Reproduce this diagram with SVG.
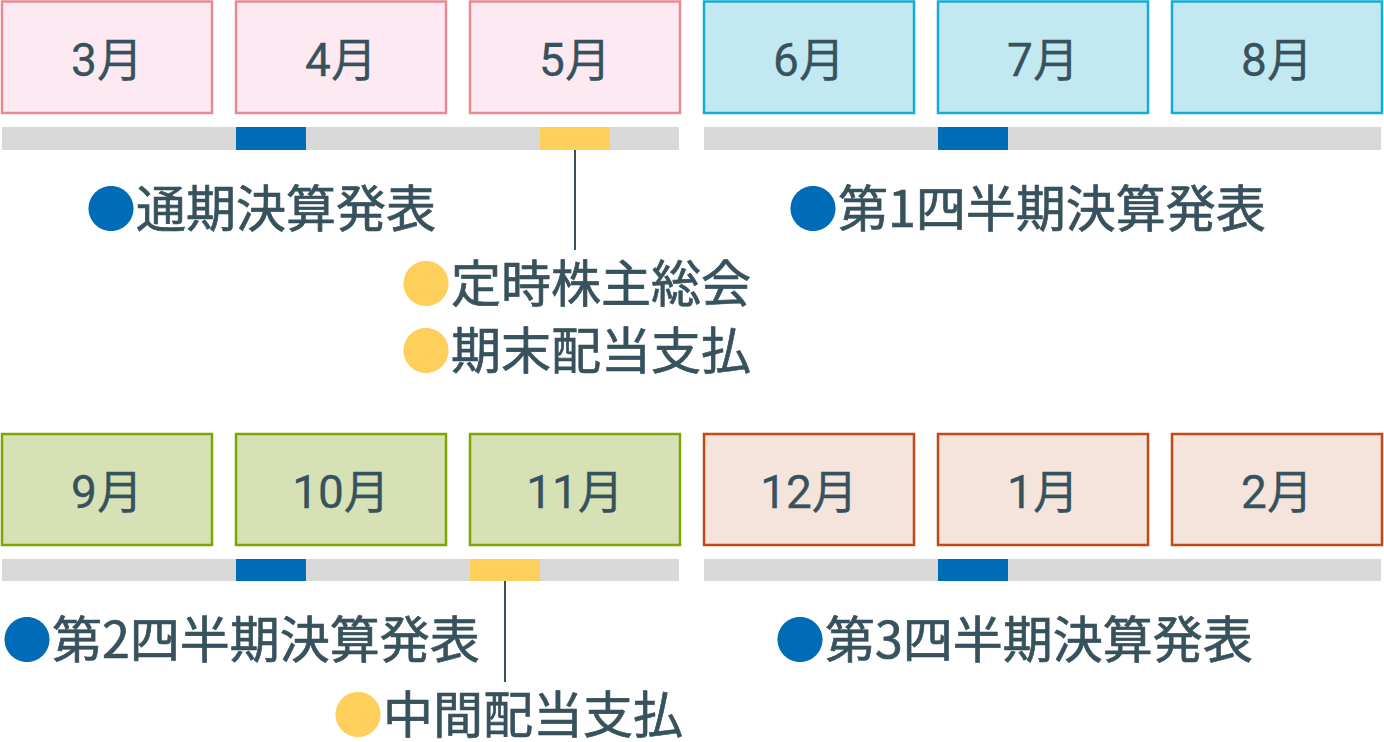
<svg xmlns="http://www.w3.org/2000/svg" width="1384" height="742" viewBox="0 0 1384 742">
<style>
text{font-family:"Noto Sans CJK JP","Noto Sans",sans-serif;fill:#37525c;stroke:#37525c;stroke-width:0.7}
.m{font-size:46px;text-anchor:middle;font-family:Roboto,"Noto Sans CJK JP",sans-serif;stroke-width:0.3}
.l{font-size:50px}
.pk{fill:#fde9f2;stroke:#e68a94;stroke-width:2.5}
.bl{fill:#c2e9f2;stroke:#14acd6;stroke-width:2.5}
.gr{fill:#d6e2b5;stroke:#7ea600;stroke-width:2.5}
.or{fill:#f4e4dc;stroke:#c34a14;stroke-width:2.5}
.bar{fill:#d9d9d9}
.b{fill:#006cb7}
.y{fill:#ffcf5c}
.cb{fill:#006cb7;stroke:none}
.cy{fill:#ffcf5c;stroke:none}
</style>
<g id="bars">
<rect class="bar" x="2" y="127" width="677" height="23"/>
<rect class="bar" x="704" y="127" width="677" height="23"/>
<rect class="b" x="236" y="127" width="70" height="23"/>
<rect class="y" x="540" y="127" width="70" height="23"/>
<rect class="b" x="938" y="127" width="70" height="23"/>
<rect class="bar" x="2" y="559" width="677" height="22"/>
<rect class="bar" x="704" y="559" width="677" height="22"/>
<rect class="b" x="236" y="559" width="70" height="22"/>
<rect class="y" x="470" y="559" width="70" height="22"/>
<rect class="b" x="938" y="559" width="70" height="22"/>
</g>
<g id="connectors" stroke="#37525c" stroke-width="2">
<line x1="575" y1="150" x2="575" y2="250"/>
<line x1="505" y1="581" x2="505" y2="682"/>
</g>
<g id="m3"><rect class="pk" x="2" y="1.5" width="210" height="111.5"/><text class="m" x="107" y="76">3月</text></g>
<g id="m4"><rect class="pk" x="236" y="1.5" width="210" height="111.5"/><text class="m" x="341" y="76">4月</text></g>
<g id="m5"><rect class="pk" x="470" y="1.5" width="210" height="111.5"/><text class="m" x="575" y="76">5月</text></g>
<g id="m6"><rect class="bl" x="704" y="1.5" width="210" height="111.5"/><text class="m" x="809" y="76">6月</text></g>
<g id="m7"><rect class="bl" x="938" y="1.5" width="210" height="111.5"/><text class="m" x="1043" y="76">7月</text></g>
<g id="m8"><rect class="bl" x="1172" y="1.5" width="210" height="111.5"/><text class="m" x="1277" y="76">8月</text></g>
<g id="m9"><rect class="gr" x="2" y="434" width="210" height="111"/><text class="m" x="107" y="508">9月</text></g>
<g id="m10"><rect class="gr" x="236" y="434" width="210" height="111"/><text class="m" x="341" y="508">10月</text></g>
<g id="m11"><rect class="gr" x="470" y="434" width="210" height="111"/><text class="m" x="575" y="508">11月</text></g>
<g id="m12"><rect class="or" x="704" y="434" width="210" height="111"/><text class="m" x="809" y="508">12月</text></g>
<g id="m1"><rect class="or" x="938" y="434" width="210" height="111"/><text class="m" x="1043" y="508">1月</text></g>
<g id="m2"><rect class="or" x="1172" y="434" width="210" height="111"/><text class="m" x="1277" y="508">2月</text></g>
<g id="e1"><text class="l" x="86" y="227"><tspan class="cb">●</tspan>通期決算発表</text></g>
<g id="e2"><text class="l" x="788" y="227"><tspan class="cb">●</tspan>第1四半期決算発表</text></g>
<g id="e3"><text class="l" x="401" y="302"><tspan class="cy">●</tspan>定時株主総会</text></g>
<g id="e4"><text class="l" x="401" y="369"><tspan class="cy">●</tspan>期末配当支払</text></g>
<g id="e5"><text class="l" x="2" y="658"><tspan class="cb">●</tspan>第2四半期決算発表</text></g>
<g id="e6"><text class="l" x="775" y="658"><tspan class="cb">●</tspan>第3四半期決算発表</text></g>
<g id="e7"><text class="l" x="333" y="733"><tspan class="cy">●</tspan>中間配当支払</text></g>
</svg>
